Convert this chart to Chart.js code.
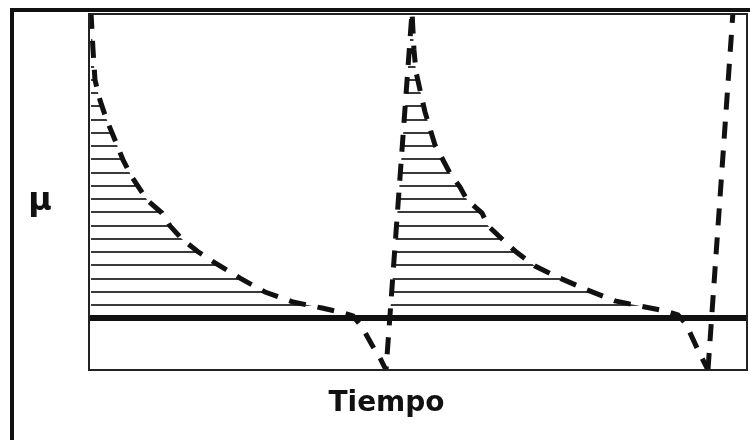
<!DOCTYPE html>
<html>
<head>
  <meta charset="utf-8" />
  <script src="https://cdn.jsdelivr.net/npm/chart.js@4.4.0/dist/chart.umd.min.js"></script>
  <style>
    body { margin:0; background:#fff; overflow:hidden; }
    #wrap { position:absolute; left:0; top:0; width:750px; height:440px; }
  </style>
</head>
<body>
<div id="wrap"><canvas id="muChart" width="750" height="440"></canvas></div>

<script>
// mu over time (x: 0-100 across the plot, y: 0-100 bottom to top)
const tiempo = [0.30, 0.61, 0.91, 1.67, 2.43, 3.19, 4.26, 5.17, 6.53, 8.81, 11.09, 12.31, 14.13, 16.57,
  19.15, 22.95, 26.75, 31.00, 35.41, 38.15, 40.12, 41.49, 43.01, 44.22, 45.14,
  49.09, 49.39, 49.70, 50.30, 51.06, 52.58, 53.80, 54.86, 56.38, 57.45, 59.73, 60.64, 62.77, 64.89,
  67.78, 71.58, 75.68, 79.94, 84.50, 87.54, 89.51, 90.73, 92.40, 93.47, 94.07];
const mu = [100.6, 89.9, 81.5, 75.8, 71.6, 68.0, 63.2, 59.0, 54.2, 47.8, 44.1, 40.5, 36.8, 33.2,
  30.1, 25.8, 21.9, 19.1, 17.4, 16.3, 15.2, 12.1, 7.0, 3.4, 0,
  100.6, 89.9, 83.7, 78.7, 72.5, 63.2, 59.0, 55.3, 51.4, 47.8, 44.1, 40.5, 36.8, 33.2,
  29.2, 25.8, 22.5, 19.4, 17.7, 16.6, 15.5, 12.9, 6.2, 2.2, 0];
// last rise at the right edge (not hatched)
const subidaT = [94.07, 97.87];
const subidaMu = [0, 100.6];
// critical level (thick line)
const umbral = 14.6;
const umbralT = [0, 100];

const toPts = (xs, ys) => xs.map((x, i) => ({ x: x, y: ys[i] }));

const canvasEl = document.getElementById('muChart');
const ctx = canvasEl.getContext('2d');

// horizontal hatching for the area between the curve and the critical level
const tile = document.createElement('canvas');
tile.width = 8; tile.height = 53;
const tctx = tile.getContext('2d');
tctx.fillStyle = '#3a3a3a';
for (const r of [0, 14, 27, 40]) {
  tctx.fillRect(0, r - 1, 8, 2);
  tctx.fillRect(0, r - 1 + 53, 8, 2);
}
const hatch = ctx.createPattern(tile, 'repeat');

const framePlugin = {
  id: 'frame',
  beforeDraw(chart) {
    const c = chart.ctx;
    c.save();
    c.strokeStyle = '#111';
    c.lineWidth = 4;
    c.strokeRect(12, 10, 800, 500);
    c.restore();
  },
  afterDraw(chart) {
    const c = chart.ctx, a = chart.chartArea;
    c.save();
    c.strokeStyle = '#222';
    c.lineWidth = 2;
    c.strokeRect(a.left, a.top, a.right - a.left, a.bottom - a.top);
    c.fillStyle = '#111';
    c.font = 'bold 32px "DejaVu Sans"';
    c.textAlign = 'center';
    c.textBaseline = 'alphabetic';
    c.fillText('μ', 40, 210);
    c.restore();
  }
};

new Chart(ctx, {
  type: 'line',
  data: {
    datasets: [
      {
        label: 'umbral',
        data: toPts(umbralT, [umbral, umbral]),
        borderColor: '#111',
        borderWidth: 6,
        pointRadius: 0,
        fill: false,
        clip: 0
      },
      {
        label: 'μ',
        data: toPts(tiempo, mu),
        borderColor: '#111',
        borderWidth: 5,
        borderDash: [17, 12],
        pointRadius: 0,
        tension: 0,
        clip: 0,
        fill: { target: { value: umbral }, above: hatch, below: 'rgba(0,0,0,0)' }
      },
      {
        label: 'μ (subida)',
        data: toPts(subidaT, subidaMu),
        borderColor: '#111',
        borderWidth: 5,
        borderDash: [17, 12],
        pointRadius: 0,
        clip: 0,
        fill: false
      }
    ]
  },
  options: {
    responsive: false,
    animation: false,
    parsing: false,
    layout: { autoPadding: false, padding: { left: 26, right: 3, top: 14, bottom: 15.2 } },
    plugins: {
      legend: { display: false },
      tooltip: { enabled: false },
      title: {
        display: true,
        position: 'bottom',
        text: 'Tiempo',
        color: '#111',
        font: { family: '"DejaVu Sans"', size: 28, weight: 'bold' },
        padding: { top: 17.2, bottom: 4 }
      }
    },
    scales: {
      x: { type: 'linear', min: 0, max: 100, display: false },
      y: {
        type: 'linear', min: 0, max: 100,
        grid: { display: false, drawTicks: false },
        border: { display: false },
        ticks: { display: false },
        afterFit: s => { s.width = 63; }
      }
    }
  },
  plugins: [framePlugin]
});
</script>
</body>
</html>
